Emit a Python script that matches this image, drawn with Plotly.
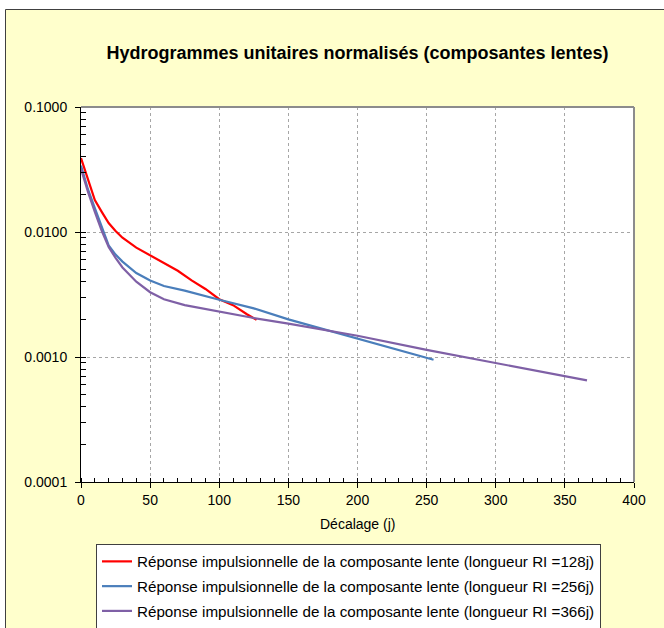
import plotly.graph_objects as go

# Lag (days) and normalised unit hydrograph ordinates for each impulse-response length
lag_128 = [0, 5, 10, 15, 20, 25, 30, 40, 50, 60, 70, 80, 90, 100, 110, 120, 127]
resp_128 = [0.039, 0.026, 0.018, 0.0145, 0.0118, 0.0102, 0.0090, 0.0075, 0.0065,
            0.0056, 0.0049, 0.0041, 0.0035, 0.0029, 0.0026, 0.0022, 0.00198]

lag_256 = [0, 5, 10, 15, 20, 25, 30, 40, 50, 60, 75, 100, 125, 150, 175, 200, 225, 255]
resp_256 = [0.034, 0.022, 0.0155, 0.0112, 0.0078, 0.0066, 0.0058, 0.0047, 0.0041,
            0.0037, 0.0034, 0.00287, 0.00245, 0.0020, 0.00168, 0.00140, 0.00118, 0.00095]

lag_366 = [0, 5, 10, 15, 20, 25, 30, 40, 50, 60, 75, 100, 125, 150, 175, 200, 250, 300, 366]
resp_366 = [0.032, 0.021, 0.0145, 0.0102, 0.0076, 0.0062, 0.0052, 0.0040, 0.0033,
            0.0029, 0.0026, 0.0023, 0.00205, 0.00185, 0.00165, 0.00148, 0.00114, 0.00089, 0.00065]

series_names = [
    "Réponse impulsionnelle de la composante lente (longueur RI =128j)",
    "Réponse impulsionnelle de la composante lente (longueur RI =256j)",
    "Réponse impulsionnelle de la composante lente (longueur RI =366j)",
]
series_colors = ["#FF0000", "#4A7EBB", "#7F60A6"]

# axis ticks: x every 50 days (minor every 10), y one label per decade
x_ticks = [0, 50, 100, 150, 200, 250, 300, 350, 400]
x_minor_step = 10
y_decades = [-4, -3, -2, -1]
y_tick_format = ".4f"   # 0.0001 ... 0.1000

FONT = "Liberation Sans, Arial, sans-serif"
W, H = 664, 628

fig = go.Figure()
for xs, ys, name, col in zip([lag_128, lag_256, lag_366],
                             [resp_128, resp_256, resp_366],
                             series_names, series_colors):
    fig.add_trace(go.Scatter(x=xs, y=ys, mode="lines", name=name, legendgroup=name,
                             line=dict(color=col, width=2.2)))

# page geometry helpers (pixel -> paper)
L, R, T, B = 81, 30, 107, 146
PW, PH = W - L - R, H - T - B


def px_x(px):
    return (px - L) / PW


def px_y(py):
    return 1 - (py - T) / PH


shapes = [
    # outer chart frame
    dict(type="rect", xref="paper", yref="paper", x0=px_x(5.5), x1=px_x(720),
         y0=px_y(720), y1=px_y(9.5), line=dict(color="#404040", width=1),
         fillcolor="rgba(0,0,0,0)", layer="above"),
    # white margins outside the frame
    dict(type="rect", xref="paper", yref="paper", x0=px_x(-10), x1=px_x(720),
         y0=px_y(9), y1=px_y(-10), line=dict(width=0), fillcolor="white", layer="above"),
    dict(type="rect", xref="paper", yref="paper", x0=px_x(-10), x1=px_x(5),
         y0=px_y(720), y1=px_y(-10), line=dict(width=0), fillcolor="white", layer="above"),
    # grey top/right edges of the plot area
    dict(type="line", xref="paper", yref="paper", x0=0, x1=1, y0=1, y1=1,
         line=dict(color="#8C8C8C", width=2)),
    dict(type="line", xref="paper", yref="paper", x0=1, x1=1, y0=0, y1=1,
         line=dict(color="#8C8C8C", width=2)),
]

fig.update_layout(
    width=W, height=H,
    margin=dict(l=L, r=R, t=T, b=B, autoexpand=False),
    paper_bgcolor="#FFFFCC",
    plot_bgcolor="white",
    font=dict(family=FONT, size=14, color="black"),
    title=dict(text="<b>Hydrogrammes unitaires normalisés (composantes lentes)</b>",
               x=0.5, xref="paper", xanchor="center",
               y=1 - 53 / H, yref="container", yanchor="middle",
               font=dict(family=FONT, size=18, color="black")),
    showlegend=True,
    legend=dict(x=px_x(96), y=px_y(544), xanchor="left", yanchor="top",
                bgcolor="white", bordercolor="#404040", borderwidth=1,
                font=dict(family=FONT, size=15.2, color="black"),
                traceorder="grouped", tracegroupgap=2, itemwidth=30),
    shapes=shapes,
    annotations=[dict(text="Décalage (j)", xref="paper", yref="paper",
                      x=0.5, y=px_y(524), xanchor="center", yanchor="middle",
                      showarrow=False, font=dict(family=FONT, size=14, color="black"))],
)

fig.update_xaxes(
    range=[x_ticks[0], x_ticks[-1]],
    tickmode="linear", tick0=x_ticks[0], dtick=x_ticks[1] - x_ticks[0],
    showline=True, linecolor="black", linewidth=1,
    ticks="outside", ticklen=5, tickcolor="black",
    tickfont=dict(size=14),
    showgrid=True, gridcolor="#A6A6A6", griddash="dot", gridwidth=1,
    minor=dict(tickmode="linear", tick0=x_ticks[0], dtick=x_minor_step, ticks="inside",
               ticklen=4, tickcolor="black", tickwidth=1, showgrid=False),
    zeroline=False,
)
fig.update_yaxes(
    type="log", range=[y_decades[0], y_decades[-1]],
    tickmode="linear", tick0=y_decades[0], dtick=1, tickformat=y_tick_format,
    showline=True, linecolor="black", linewidth=1,
    ticks="outside", ticklen=5, tickcolor="black", ticklabelstandoff=5,
    tickfont=dict(size=14),
    showgrid=True, gridcolor="#A6A6A6", griddash="dot", gridwidth=1,
    minor=dict(dtick="D1", ticks="inside", ticklen=5, tickwidth=1,
               tickcolor="black", showgrid=False),
    zeroline=False,
)

fig.write_html("out.html")
